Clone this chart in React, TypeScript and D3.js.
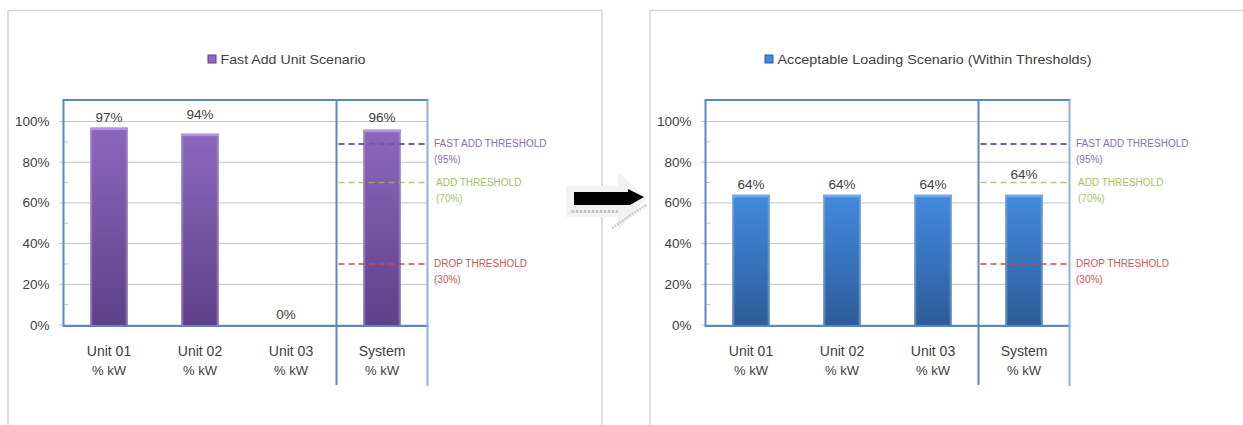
import React from "react";
import * as d3 from "d3";

const categories = ["Unit 01", "Unit 02", "Unit 03", "System"];
const categorySub = "% kW";
const fastAddValues = [97, 94, 0, 96];
const acceptableValues = [64, 64, 64, 64];
const yTicks = [0, 20, 40, 60, 80, 100];
const minorTicks = [10, 30, 50, 70, 90];
const thresholdNames = ["FAST ADD THRESHOLD", "ADD THRESHOLD", "DROP THRESHOLD"];
const thresholdNotes = ["(95%)", "(70%)", "(30%)"];
const thresholdLevels = [89, 70, 30];
const legendFast = "Fast Add Unit Scenario";
const legendAccept = "Acceptable Loading Scenario (Within Thresholds)";

const FONT = "'Liberation Sans', Arial, sans-serif";
const TEXT = "#404040";
const thColors = ["#7a5aa8", "#9bbb59", "#d9443f"];
const thTextColors = ["#8a6cb4", "#a2c064", "#cc5550"];

type PanelProps = {
  dx: number;
  values: number[];
  legend: string;
  legendX: number;
  legendW: number;
  gradId: string;
  grad: [string, string];
  cap: string;
  edge: string;
  labelLift: number[];
};

function Panel({ dx, values, legend, legendX, legendW, gradId, grad, cap, edge, labelLift }: PanelProps) {
  const left = 63.5 + dx;
  const right = 427.5 + dx;
  const top = 100;
  const x = d3.scaleBand<string>().domain(categories).range([left, right]).padding(0);
  const y = d3.scaleLinear().domain([0, 100]).range([325, 121.5]);
  const bw = x.bandwidth() * 0.41;
  const divX = (x("Unit 03")! + x.bandwidth() + x("System")!) / 2;
  const boxBlue = "#5b87c4";
  return (
    <g>
      <defs>
        <linearGradient id={gradId} x1="0" y1="0" x2="0" y2="1">
          <stop offset="0%" stopColor={grad[0]} />
          <stop offset="100%" stopColor={grad[1]} />
        </linearGradient>
      </defs>
      {/* legend */}
      <rect x={legendX} y={55} width={8} height={8} fill={grad[0]} stroke={grad[1]} strokeWidth={1} />
      <text
        x={legendX + 12.5}
        y={64}
        fontFamily={FONT}
        fontSize={13.5}
        fill={TEXT}
        textLength={legendW}
        lengthAdjust="spacingAndGlyphs"
      >
        {legend}
      </text>
      {/* gridlines */}
      {yTicks.map((t) => (
        <line key={"g" + t} x1={left - 4.5} x2={right} y1={y(t)} y2={y(t)} stroke="#c4c4c4" strokeWidth={1} />
      ))}
      {minorTicks.map((t) => (
        <line key={"m" + t} x1={left} x2={left + 5} y1={y(t)} y2={y(t)} stroke="#c4c4c4" strokeWidth={1} />
      ))}
      {yTicks.map((t) => (
        <text key={"t" + t} x={left - 14} y={y(t) + 4.5} textAnchor="end" fontFamily={FONT} fontSize={13.5} fill={TEXT}>
          {t + "%"}
        </text>
      ))}
      {/* bars */}
      {values.map((v, i) => {
        const c = categories[i];
        const cx = x(c)! + x.bandwidth() / 2;
        const bx = cx - bw / 2;
        const by = y(v);
        const h = y(0) - by;
        return (
          <g key={c}>
            {h > 0 && (
              <g>
                <rect x={bx} y={by} width={bw} height={h} fill={`url(#${gradId})`} />
                <rect x={bx} y={by} width={2} height={h} fill={edge} opacity={0.55} />
                <rect x={bx + bw - 2} y={by} width={2} height={h} fill={edge} opacity={0.55} />
                <rect x={bx} y={by} width={bw} height={2.5} fill={cap} />
              </g>
            )}
            <text
              x={cx - (v === 0 ? 5 : 0)}
              y={by - 6 - labelLift[i]}
              textAnchor="middle"
              fontFamily={FONT}
              fontSize={13.5}
              fill={TEXT}
            >
              {v + "%"}
            </text>
            <text x={cx} y={355.5} textAnchor="middle" fontFamily={FONT} fontSize={14} fill={TEXT}>
              {c}
            </text>
            <text x={cx} y={375} textAnchor="middle" fontFamily={FONT} fontSize={13} fill={TEXT}>
              {categorySub}
            </text>
          </g>
        );
      })}
      {/* thresholds */}
      {thresholdLevels.map((lv, i) => (
        <g key={"th" + i}>
          <line
            x1={divX + 2}
            x2={right}
            y1={y(lv)}
            y2={y(lv)}
            stroke={thColors[i]}
            strokeWidth={i === 0 ? 2 : 1.6}
            strokeDasharray="6,4"
            opacity={i === 1 ? 0.8 : 1}
          />
          <text x={right + (i === 1 ? 8.5 : 6.5)} y={y(lv) + 3.5} fontFamily={FONT} fontSize={10} fill={thTextColors[i]}>
            {thresholdNames[i]}
          </text>
          <text x={right + (i === 1 ? 8.5 : 6.5)} y={y(lv) + 19} fontFamily={FONT} fontSize={10} fill={thTextColors[i]}>
            {thresholdNotes[i]}
          </text>
        </g>
      ))}
      {/* box */}
      <line x1={left} x2={left} y1={top} y2={y(0)} stroke={boxBlue} strokeWidth={2} />
      <line x1={left - 1} x2={right + 1} y1={top} y2={top} stroke={boxBlue} strokeWidth={2} />
      <line x1={left - 1} x2={right + 1} y1={y(0) + 1} y2={y(0) + 1} stroke={boxBlue} strokeWidth={2} />
      <line x1={divX} x2={divX} y1={top} y2={385} stroke={boxBlue} strokeWidth={2} />
      <line x1={right} x2={right} y1={top} y2={386} stroke="#8fb0da" strokeWidth={2} />
    </g>
  );
}

export default function App() {
  return (
    <svg
      width={1243}
      height={425}
      style={{ position: "absolute", left: 0, top: 0, background: "#ffffff" }}
    >
      <defs>
        <pattern id="hatch" width="4" height="4" patternUnits="userSpaceOnUse">
          <rect width="4" height="4" fill="#e4e4e4" />
          <rect width="2" height="4" fill="#c4c4c4" />
        </pattern>
      </defs>
      <rect width={1243} height={425} fill="#ffffff" />
      {/* frames */}
      <path d="M8,425 V10.5 H602 V425" fill="none" stroke="#d4d4d4" strokeWidth={1.5} />
      <path d="M650,425 V10.5 H1243" fill="none" stroke="#d4d4d4" strokeWidth={1.5} />
      {/* arrow */}
      <polygon points="566,186 618,186 618,172 647,198 618,230 618,217 566,217" fill="#f2f2f2" />
      <rect x={570} y={210} width={48} height={3} fill="url(#hatch)" />
      <line x1={612} y1={228} x2={646} y2={205} stroke="#cfcfcf" strokeWidth={3} strokeDasharray="2,1" />
      <polygon points="574,192 628,192 628,189 644,197 630,205 574,205" fill="#000000" />
      <Panel
        dx={0}
        values={fastAddValues}
        legend={legendFast}
        legendX={208}
        legendW={145}
        gradId="gPurple"
        grad={["#8b67bd", "#5d4189"]}
        cap="#b193e2"
        edge="#a58fc6"
        labelLift={[0, 9, 0, 2]}
      />
      <Panel
        dx={642}
        values={acceptableValues}
        legend={legendAccept}
        legendX={765}
        legendW={314}
        gradId="gBlue"
        grad={["#428ade", "#2d5c9a"]}
        cap="#70a9ee"
        edge="#86a6cf"
        labelLift={[0, 0, 0, 10]}
      />
    </svg>
  );
}
